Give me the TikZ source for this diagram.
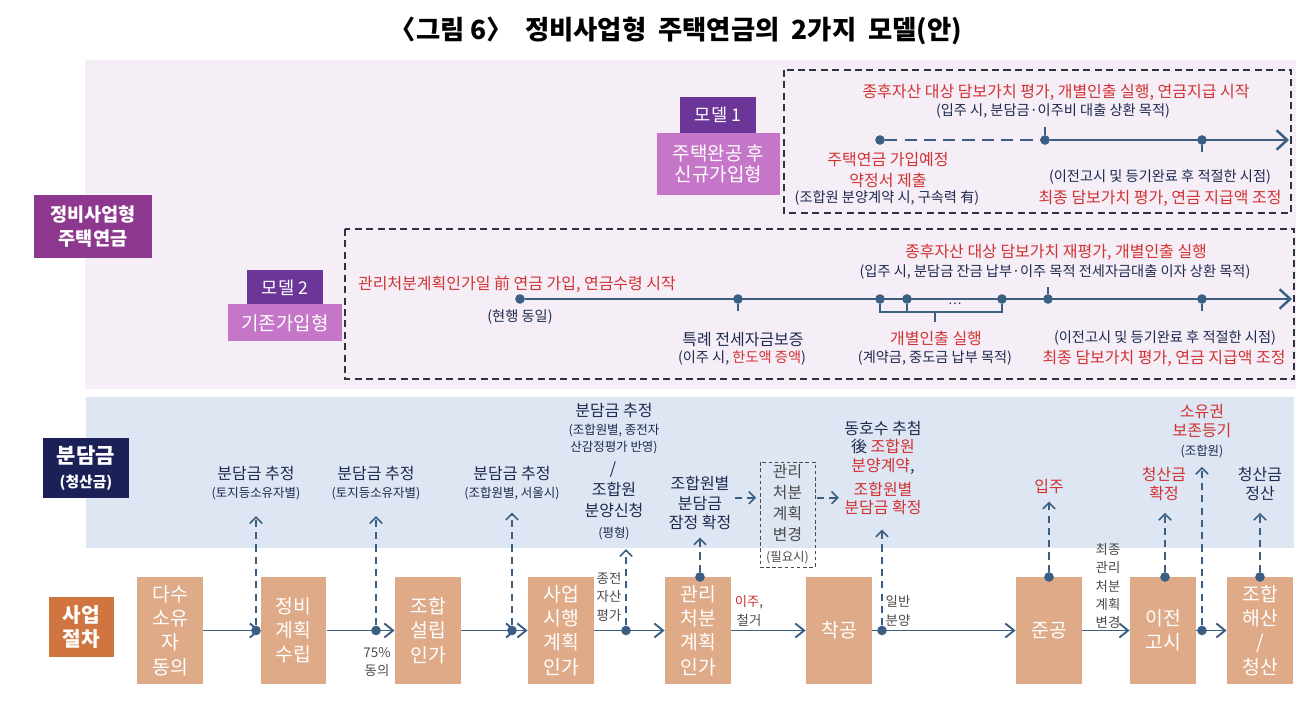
\documentclass[tikz,border=0pt]{standalone}
\usepackage{fontspec}
\setmainfont{Noto Sans CJK KR}
\usepackage{tikz}
\usetikzlibrary{arrows.meta, positioning, calc}

\definecolor{lineblue}{HTML}{3B5F82}
\definecolor{navytxt}{HTML}{1F2A50}
\definecolor{redtxt}{HTML}{D23232}
\definecolor{graytxt}{HTML}{4A4A4A}
\definecolor{pinkbg}{HTML}{F5EEF6}
\definecolor{bluebg}{HTML}{DDE6F2}
\definecolor{tanbox}{HTML}{DFAA88}
\definecolor{plumbox}{HTML}{8E378E}
\definecolor{navybox}{HTML}{1B2157}
\definecolor{orangebox}{HTML}{D0753F}
\definecolor{modelbox}{HTML}{6C3598}
\definecolor{orchidbox}{HTML}{C676C8}
\definecolor{framecol}{HTML}{2A3441}

\newcommand{\fs}[2]{\fontsize{#1}{#2}\selectfont}
\newcommand{\rt}[1]{\textcolor{redtxt}{#1}}
\newcommand{\sm}[1]{{\fs{7.1}{9}#1}}

\begin{document}
\begin{tikzpicture}[
    x=0.02cm, y=-0.02cm,
    > = {Straight Barb[length=5pt,width=8pt]},
    tl/.style={draw=lineblue, line width=1.4pt},
    dot/.style={circle, fill=lineblue, inner sep=0pt, minimum size=5.5pt},
    stepbox/.style={fill=tanbox, text=white, minimum width=1.32cm, minimum height=2.14cm, inner sep=0pt, align=center, font=\fs{11}{13.8}},
    flow/.style={draw=lineblue, line width=1.1pt, ->},
    up/.style={draw=lineblue, line width=0.9pt, dash pattern=on 4pt off 3pt, -{Straight Barb[length=3.5pt,width=7pt]}, shorten >=5pt},
    lbl/.style={text=white, inner sep=0pt, align=center},
    mframe/.style={draw=framecol, line width=1.3pt, dash pattern=on 4pt off 2.5pt},
    note/.style={text=navytxt, inner sep=1pt, align=center, font=\fs{9.1}{11}},
    sub/.style={text=navytxt, inner sep=1pt, align=center, font=\fs{8.1}{9}},
    side/.style={text=graytxt, inner sep=1pt, align=center, font=\fs{7.6}{10.4}}
]
\useasboundingbox (0,0) rectangle (1316,705);

% --- title ---
\node[font=\bfseries\fs{15}{17}] (title) at (676,31) {〈그림 6〉\ \ 정비사업형\ \ 주택연금의\ \ 2가지\ \ 모델(안)};

% --- backgrounds ---
\fill[pinkbg] (85,60) rectangle (1296,389);
\fill[bluebg] (86,397) rectangle (1294,548);

% --- side labels ---
\node[lbl, fill=plumbox, minimum width=2.36cm, minimum height=1.26cm, font=\bfseries\fs{10.6}{13.4}] (jb) at (93,226.5) {정비사업형\\주택연금};
\node[lbl, fill=navybox, minimum width=1.72cm, minimum height=1.2cm, font=\bfseries\fs{12}{14}] (bd) at (86,468) {분담금\\{\fs{8.4}{10}(청산금)}};
\node[lbl, fill=orangebox, minimum width=1.3cm, minimum height=1.2cm, font=\bfseries\fs{11.5}{14}] (sj) at (81.5,627) {사업\\절차};

% --- MODEL 1 ---
\draw[mframe] (784,70) rectangle (1291,213);
\node[lbl, fill=modelbox, minimum width=1.52cm, minimum height=0.72cm, font=\fs{10}{11}] (m1n) at (718,115) {모델 1};
\node[lbl, fill=orchidbox, minimum width=2.46cm, minimum height=1.24cm, font=\fs{10.8}{12.2}] (m1t) at (718.5,164) {주택완공 후\\신규가입형};

\node[dot] (m1a) at (880,140) {};
\node[dot] (m1b) at (1045,140) {};
\node[dot] (m1c) at (1202,140) {};
\coordinate (m1e) at (1289,140);
\draw[tl, dash pattern=on 7pt off 4pt] (m1a) -- (m1b);
\draw[tl, -{Straight Barb[length=6pt,width=11pt]}] (m1b) -- (m1e);
\draw[tl] (m1b) -- ++(0,-13);
\draw[tl] (m1c) -- ++(0,12);

\node[note, text=redtxt] (m1top) at (1056,92) {종후자산 대상 담보가치 평가, 개별인출 실행, 연금지급 시작};
\node[sub] (m1sub) at (1053,111) {(입주 시, 분담금·이주비 대출 상환 목적)};
\node[note, text=redtxt, font=\fs{9.1}{11.6}] (m1l) at (888,170) {주택연금 가입예정\\약정서 제출};
\node[sub] (m1ls) at (887,198) {(조합원 분양계약 시, 구속력 有)};
\node[sub] (m1r) at (1160,177) {(이전고시 및 등기완료 후 적절한 시점)};
\node[note, text=redtxt] (m1rs) at (1160,198) {최종 담보가치 평가, 연금 지급액 조정};

% --- MODEL 2 ---
\draw[mframe] (345,229) rectangle (1294,379);
\node[lbl, fill=modelbox, minimum width=1.52cm, minimum height=0.7cm, font=\fs{10}{11}] (m2n) at (285,287.5) {모델 2};
\node[lbl, fill=orchidbox, minimum width=2.28cm, minimum height=0.74cm, font=\fs{10.8}{12}] (m2t) at (285,323) {기존가입형};

\node[dot] (m2a) at (520,299) {};
\node[dot] (m2b) at (738,299) {};
\node[dot] (m2c) at (880,299) {};
\node[dot] (m2d) at (907,299) {};
\node[dot] (m2e) at (1002,299) {};
\node[dot] (m2f) at (1048,299) {};
\node[dot] (m2g) at (1202,299) {};
\coordinate (m2end) at (1292,299);
\coordinate (brk) at (935,312);
\draw[tl, -{Straight Barb[length=6pt,width=11pt]}] (m2a) -- (m2end);
\draw[tl] (m2b) -- ++(0,12);
\draw[tl] (m2f) -- ++(0,-12);
\draw[tl] (m2g) -- ++(0,12);
\draw[tl, line width=1.1pt] (m2c) -- (m2c |- brk) -- (m2e |- brk) -- (m2e);
\draw[tl, line width=1.1pt] (m2d) -- (m2d |- brk);
\draw[tl, line width=1.1pt] (brk) -- ++(0,10);
\node[text=navytxt, font=\fs{7}{7}, inner sep=0pt] (gap) at (955,304) {…};

\node[note, text=redtxt] (m2top) at (517,284) {관리처분계획인가일 前 연금 가입, 연금수령 시작};
\node[sub] (m2as) at (520,317) {(현행 동일)};
\node[note] (m2b1) at (743,340) {특례 전세자금보증};
\node[sub] (m2b2) at (742,358) {(이주 시, \rt{한도액 증액})};
\node[note, text=redtxt] (m2ftop) at (1056,252) {종후자산 대상 담보가치 재평가, 개별인출 실행};
\node[sub] (m2fsub) at (1055,272) {(입주 시, 분담금 잔금 납부·이주 목적 전세자금대출 이자 상환 목적)};
\node[note, text=redtxt] (m2c1) at (936,338) {개별인출 실행};
\node[sub] (m2c2) at (935,358) {(계약금, 중도금 납부 목적)};
\node[sub] (m2g1) at (1165,338) {(이전고시 및 등기완료 후 적절한 시점)};
\node[note, text=redtxt] (m2g2) at (1164,358) {최종 담보가치 평가, 연금 지급액 조정};

% --- process boxes ---
\node[stepbox] (b1) at (170,630.5) {다수\\소유\\자\\동의};
\node[stepbox] (b2) at (293.5,630.5) {정비\\계획\\수립};
\node[stepbox] (b3) at (428,630.5) {조합\\설립\\인가};
\node[stepbox] (b4) at (561,630.5) {사업\\시행\\계획\\인가};
\node[stepbox] (b5) at (698,630.5) {관리\\처분\\계획\\인가};
\node[stepbox] (b6) at (839,630.5) {착공};
\node[stepbox] (b7) at (1049,630.5) {준공};
\node[stepbox] (b8) at (1163,630.5) {이전\\고시};
\node[stepbox] (b9) at (1260,630.5) {조합\\해산\\/\\청산};

\draw[flow] (b1) -- (b2);
\draw[flow] (b2) -- (b3);
\draw[flow, -{Straight Barb[length=5pt,width=8pt] Straight Barb[length=5pt,width=8pt]}] (b3) -- (b4);
\draw[flow] (b4) -- (b5);
\draw[flow] (b5) -- (b6);
\draw[flow] (b6) -- (b7);
\draw[flow] (b7) -- (b8);
\draw[flow] (b8) -- (b9);

\node[dot] (d12) at (256,630.5) {};
\node[dot] (d23) at (376,630.5) {};
\node[dot] (d34) at (512,630.5) {};
\node[dot] (d45) at (626,630.5) {};
\node[dot] (d67) at (882,630.5) {};
\node[dot] (d89) at (1202,630.5) {};
\node[dot] (d5) at (700,577) {};
\node[dot] (d7) at (1049,577) {};
\node[dot] (d8) at (1165,577) {};
\node[dot] (d9) at (1260,577) {};

% small labels on the flow
\node[side] (s23) at (377,662) {75\%\\동의};
\node[side] (s45) at (609,597) {종전\\자산\\평가};
\node[side] (s56) at (749,611) {\rt{이주},\\철거};
\node[side] (s67) at (898,611) {일반\\분양};
\node[side] (s78) at (1108,586) {최종\\관리\\처분\\계획\\변경};

% --- 분담금 texts ---
\node[note, font=\fs{9.1}{10.4}] (t1) at (256,483) {분담금 추정\\\sm{(토지등소유자별)}};
\node[note, font=\fs{9.1}{10.4}] (t2) at (376,483) {분담금 추정\\\sm{(토지등소유자별)}};
\node[note, font=\fs{9.1}{10.4}] (t3) at (512,483) {분담금 추정\\\sm{(조합원별, 서울시)}};
\node[note, font=\fs{9.1}{10}] (t4a) at (614,429) {분담금 추정\\\sm{(조합원별, 종전자}\\\sm{산감정평가 반영)}};
\node[note] (t4s) at (613,470) {/};
\node[note, font=\fs{9.1}{12}] (t4b) at (614,511) {조합원\\분양신청\\\sm{(평형)}};
\node[note, font=\fs{9.1}{11.3}] (t5) at (700,503) {조합원별\\분담금\\잠정 확정};
\node[draw=graytxt, dash pattern=on 2pt off 1.5pt, line width=0.5pt, text=graytxt, align=center, minimum width=1.1cm, minimum height=2.1cm, inner sep=0pt, font=\fs{9}{11.9}] (chg) at (787.5,514.5) {관리\\처분\\계획\\변경\\\sm{(필요시)}};
\node[note, font=\fs{9.1}{10.6}] (t6) at (883,468) {동호수 추첨\\後 \rt{조합원}\\\rt{분양계약},\\[3pt]\rt{조합원별}\\\rt{분담금 확정}};
\node[note, text=redtxt] (t7) at (1049,487) {입주};
\node[note, text=redtxt, font=\fs{9.1}{10.8}] (t8) at (1164,483.5) {청산금\\확정};
\node[note, font=\fs{9.1}{10.8}] (t9) at (1202,431) {\rt{소유권}\\\rt{보존등기}\\\sm{(조합원)}};
\node[note, font=\fs{9.1}{10.8}] (t10) at (1260,483.5) {청산금\\정산};

% --- dashed arrows up ---
\draw[up, shorten >=8pt] (d12) -- (d12 |- t1.south);
\draw[up, shorten >=8pt] (d23) -- (d23 |- t2.south);
\draw[up, shorten >=6pt] (d34) -- (d34 |- t3.south);
\draw[up, shorten >=4pt] (d45) -- (d45 |- t4b.south);
\draw[up, shorten >=3pt] (d5) -- (d5 |- t5.south);
\draw[up, shorten >=7pt] (d67) -- (d67 |- t6.south);
\draw[up, shorten >=3pt] (d7) -- (d7 |- t7.south);
\draw[up, shorten >=6pt] (d8) -- (d8 |- t8.south);
\draw[up, shorten >=4pt] (d89) -- (d89 |- t9.south);
\draw[up, shorten >=6pt] (d9) -- (d9 |- t10.south);
\draw[up, shorten >=2pt, shorten <=1pt] ([yshift=3pt]t5.east) -- ([yshift=3pt]t5.east -| chg.west);
\draw[up, shorten >=2pt, shorten <=1pt] ([yshift=3pt]chg.east |- t5.east) -- ([yshift=3pt]t6.west |- t5.east);

\end{tikzpicture}
\end{document}
